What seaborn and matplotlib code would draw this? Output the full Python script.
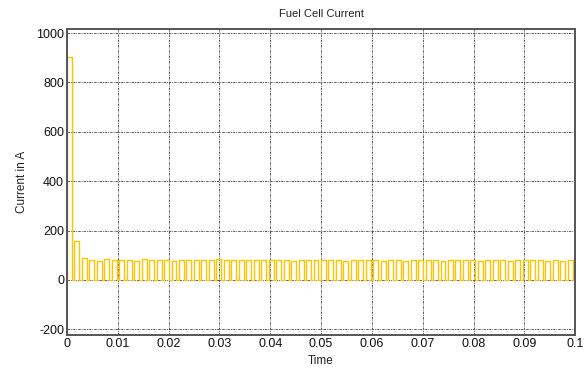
import numpy as np
import pandas as pd
import matplotlib
matplotlib.use("Agg")
import matplotlib.pyplot as plt
import seaborn as sns

# ---- data ----
title = "Fuel Cell Current"
x_label = "Time"
y_label = "Current in A"
x_ticks = [0, 0.01, 0.02, 0.03, 0.04, 0.05, 0.06, 0.07, 0.08, 0.09, 0.1]
x_tick_labels = ["0", "0.01", "0.02", "0.03", "0.04", "0.05", "0.06", "0.07", "0.08", "0.09", "0.1"]
y_ticks = [-200, 0, 200, 400, 600, 800, 1000]
y_tick_labels = ["-200", "0", "200", "400", "600", "800", "1000"]

pulse_period = 0.00147   # s, apparent pulse spacing
pulse_duty = 0.66        # fraction of period at the high level
pulse_heights = [
    905, 158, 90, 82, 78, 84, 81, 81, 81, 77, 85, 81,
    81, 82, 76, 83, 81, 81, 80, 81, 84, 81, 80, 82,
    81, 80, 82, 82, 81, 80, 77, 81, 80, 81, 82, 80,
    81, 76, 82, 82, 81, 82, 77, 81, 81, 76, 81, 82,
    81, 81, 76, 82, 82, 81, 81, 76, 82, 81, 81, 76,
    81, 82, 82, 80, 78, 81, 77, 81,
]

# ---- build step waveform from the pulse list ----
t_pts, i_pts = [], []
for k, h in enumerate(pulse_heights):
    t0 = k * pulse_period
    t1 = t0 + pulse_duty * pulse_period
    t_pts += [t0, t0, t1, t1]
    i_pts += [0, h, h, 0]
t_pts.append(0.1)
i_pts.append(0)
df = pd.DataFrame({"t": t_pts, "i": i_pts})

sns.set_theme(style="white")
plt.rcParams["font.family"] = ["Liberation Sans", "DejaVu Sans"]

fig = plt.figure(figsize=(5.87, 3.69), dpi=100)
ax = fig.add_axes([0.114, 0.092, 0.866, 0.829])

sns.lineplot(data=df, x="t", y="i", sort=False, estimator=None,
             color="#FFC400", linewidth=1.0, ax=ax)

ax.set_xlim(0, 0.1)
ax.set_ylim(-223, 1016)
ax.set_xticks(x_ticks)
ax.set_xticklabels(x_tick_labels)
ax.set_yticks(y_ticks)
ax.set_yticklabels(y_tick_labels)

ax.grid(True, color="#444444", linestyle=(0, (3, 1.2, 1, 1.2)), linewidth=0.6)
ax.set_axisbelow(True)
for s in ax.spines.values():
    s.set_visible(True)
    s.set_color("#555555")
    s.set_linewidth(1.4)

ax.tick_params(axis="both", direction="in", length=3, width=0.8, colors="#222222",
               labelsize=9, pad=2)
for lab in ax.get_xticklabels() + ax.get_yticklabels():
    lab.set_color("#111111")
ax.set_title(title, fontsize=8, color="#222222", pad=9)
ax.set_xlabel(x_label, fontsize=8.5, color="#222222", labelpad=4)
ax.set_ylabel(y_label, fontsize=8.5, color="#222222", labelpad=6)

fig.savefig("out.png", dpi=100, facecolor="white")
